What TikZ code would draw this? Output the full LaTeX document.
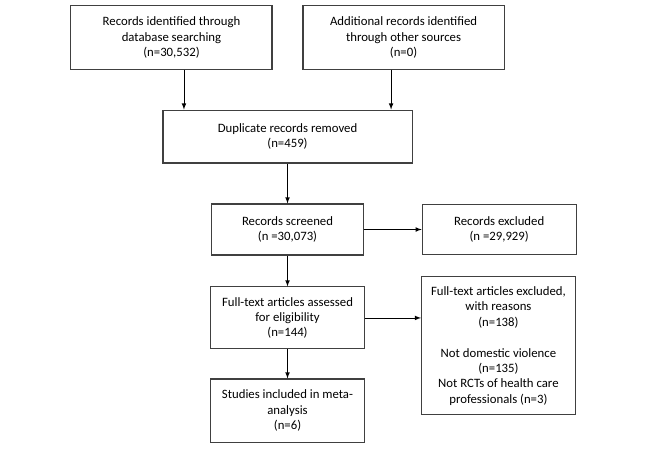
\documentclass[tikz,border=0pt]{standalone}
\usepackage{fontspec}
\setmainfont{Carlito}
\usepackage{tikz}
\usetikzlibrary{shapes, arrows, calc}
\tikzstyle{record} = [rectangle, minimum width=4.07cm, minimum height=1.64cm, align=center, draw=black!75, line width=0.8pt, font=\fontsize{9.6}{11.6}\selectfont]
\tikzstyle{arrow} = [->,>=latex, line width=0.6pt]

\begin{document}
\begin{tikzpicture}

\useasboundingbox (-4.537,0.992) rectangle (12.766,-11.020);

% Identification
\node (db) [record, minimum width=5.32cm, minimum height=1.69cm] {Records identified through\\database searching\\(n=30,532)};
\node (other) [record, right of=db, xshift=5.14cm, minimum width=5.32cm, minimum height=1.69cm] {Additional records identified\\through other sources\\(n=0)};
\node (dup) [record, below of=db, xshift=3.07cm, yshift=-1.62cm, minimum width=6.59cm, minimum height=1.40cm] {Duplicate records removed\\(n=459)};

% Screening
\node (screen) [record, below of=dup, yshift=-1.46cm, minimum width=4.0cm, minimum height=1.35cm] {Records screened\\(n =30,073)};
\node (excl) [record, right of=screen, xshift=4.60cm, minimum height=1.32cm] {Records excluded\\(n =29,929)};

% Eligibility
\node (ft) [record, below of=screen, yshift=-1.34cm] {Full-text articles assessed\\for eligibility\\(n=144)};
\node (ftex) [record, right of=ft, xshift=4.58cm, yshift=-0.74cm, minimum height=3.65cm] {Full-text articles excluded,\\with reasons\\(n=138)\\[11.6pt]Not domestic violence\\(n=135)\\Not RCTs of health care\\professionals (n=3)};

% Included
\node (incl) [record, below of=ft, yshift=-1.45cm, minimum height=1.67cm] {Studies included in meta-\\analysis\\(n=6)};

\draw [arrow] ([xshift=0.33cm]db.south) -- ([xshift=0.33cm]db.south |- dup.north);
\draw [arrow] ([xshift=-0.33cm]other.south) -- ([xshift=-0.33cm]other.south |- dup.north);
\draw [arrow] (dup) -- (screen);
\draw [arrow] (screen) -- (excl);
\draw [arrow] (screen) -- (ft);
\draw [arrow] (ft.east) -- (ft.east -| ftex.west);
\draw [arrow] (ft) -- (incl);

\end{tikzpicture}
\end{document}
